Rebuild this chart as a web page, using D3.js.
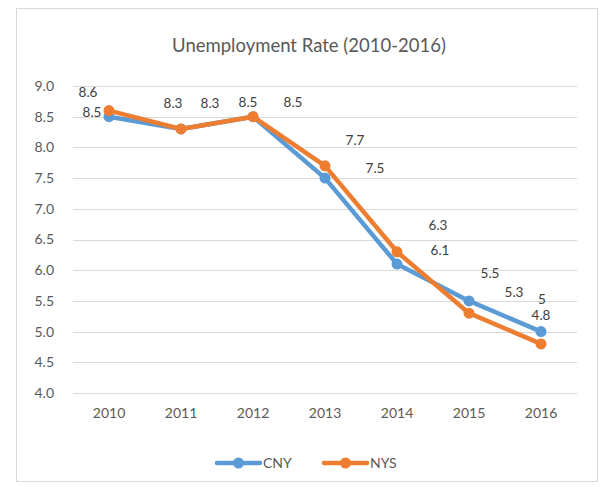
<!DOCTYPE html>
<html><head><meta charset="utf-8">
<script src="https://cdn.jsdelivr.net/npm/d3@7"></script>
<style>body{margin:0;background:#fff}svg{display:block}</style>
</head><body>
<svg id="c" width="606" height="487"></svg>
<script>
const years = ["2010","2011","2012","2013","2014","2015","2016"];
const cnyValues = [8.5, 8.3, 8.5, 7.5, 6.1, 5.5, 5.0];
const nysValues = [8.6, 8.3, 8.5, 7.7, 6.3, 5.3, 4.8];
const yTicks = [4.0,4.5,5.0,5.5,6.0,6.5,7.0,7.5,8.0,8.5,9.0];
const seriesNames = ["CNY","NYS"];
const seriesColors = ["#5B9BD5","#ED7D31"];
// label placement offsets (layout only, px relative to point)
const cnyLabelOffsets = [[-17,-4],[-8,-26],[-5,-14],[50,-10],[43,-14],[21,-28],[1,-32]];
const nysLabelOffsets = [[-21,-18],[29,-26],[40,-14],[30,-26],[41,-27],[45,-21],[0,-29]];

const svg = d3.select("#c");
const font = "Lato, 'Open Sans', sans-serif";
svg.append("rect").attr("x",16.5).attr("y",8.5).attr("width",581).attr("height",473)
  .attr("fill","#fff").attr("stroke","#d9d9d9").attr("stroke-width",1);

const pLeft=73, pRight=577, pTop=86, pBottom=393;
const x = d3.scaleBand().domain(years).range([pLeft,pRight]);
const y = d3.scaleLinear().domain([4,9]).range([pBottom,pTop]);

svg.append("text").attr("x",309).attr("y",52).attr("text-anchor","middle")
  .attr("font-family",font).attr("font-size",18.5).attr("fill","#595959")
  .text("Unemployment Rate (2010-2016)");

// gridlines
svg.append("g").selectAll("line").data(yTicks).join("line")
  .attr("x1",pLeft).attr("x2",pRight).attr("y1",d=>Math.round(y(d))+0.5).attr("y2",d=>Math.round(y(d))+0.5)
  .attr("stroke","#d9d9d9").attr("stroke-width",1);

// y axis
const ya = svg.append("g").attr("transform",`translate(${pLeft-10},0)`)
  .call(d3.axisLeft(y).tickValues(yTicks).tickFormat(d3.format(".1f")).tickSize(0));
ya.select(".domain").remove();
ya.selectAll("text").attr("font-family",font).attr("font-size",14).attr("fill","#595959").attr("dx",-6);

// x axis
const xa = svg.append("g").attr("transform",`translate(0,${pBottom})`)
  .call(d3.axisBottom(x).tickSize(0));
xa.select(".domain").remove();
xa.selectAll("text").attr("font-family",font).attr("font-size",14).attr("fill","#595959").attr("dy","1.55em");

const cx = d => x(d)+x.bandwidth()/2;
const allSeries = [cnyValues, nysValues];
const offsets = [cnyLabelOffsets, nysLabelOffsets];
const line = d3.line().x((d,i)=>cx(years[i])).y(d=>y(d));

allSeries.forEach((vals,si)=>{
  const g = svg.append("g");
  g.append("path").datum(vals).attr("d",line).attr("fill","none")
    .attr("stroke",seriesColors[si]).attr("stroke-width",4.5).attr("stroke-linejoin","round").attr("stroke-linecap","round");
  g.selectAll("circle").data(vals).join("circle")
    .attr("cx",(d,i)=>cx(years[i])).attr("cy",d=>y(d)).attr("r",5.5).attr("fill",seriesColors[si]);
});
allSeries.forEach((vals,si)=>{
  svg.append("g").selectAll("text").data(vals).join("text")
    .attr("x",(d,i)=>cx(years[i])+offsets[si][i][0])
    .attr("y",(d,i)=>y(d)+offsets[si][i][1])
    .attr("dy","0.35em").attr("text-anchor","middle")
    .attr("font-family",font).attr("font-size",13.5).attr("fill","#404040")
    .text(d=>String(d));
});

// legend
const lg = svg.append("g").attr("transform","translate(0,463)");
const legendX = [217, 324];
seriesNames.forEach((n,i)=>{
  lg.append("line").attr("x1",legendX[i]).attr("x2",legendX[i]+43).attr("y1",0).attr("y2",0)
    .attr("stroke",seriesColors[i]).attr("stroke-width",4.5).attr("stroke-linecap","round");
  lg.append("circle").attr("cx",legendX[i]+21.5).attr("cy",0).attr("r",5.5).attr("fill",seriesColors[i]);
  lg.append("text").attr("x",legendX[i]+46).attr("y",0).attr("dy","0.35em")
    .attr("font-family",font).attr("font-size",14).attr("fill","#595959").text(n);
});
</script>
</body></html>
